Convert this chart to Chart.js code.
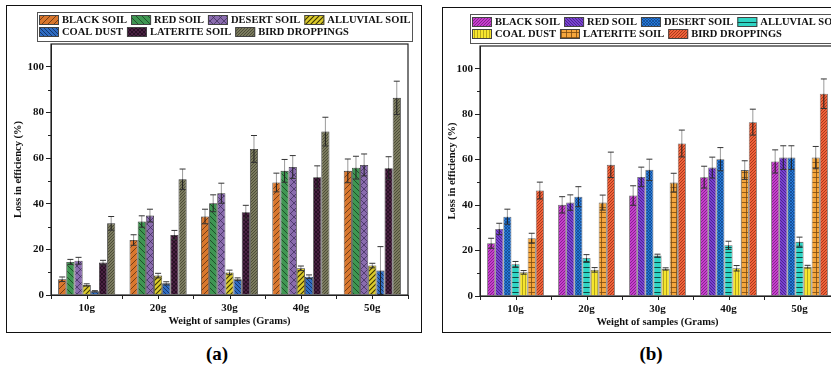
<!DOCTYPE html>
<html>
<head>
<meta charset="utf-8">
<script src="https://cdn.jsdelivr.net/npm/chart.js@4/dist/chart.umd.min.js"></script>
<style>
body{margin:0;width:831px;height:372px;overflow:hidden;background:#fff;position:relative}
.frame{position:absolute;border:1.5px solid #111;box-sizing:border-box}
canvas{position:absolute;top:0}
.tag{position:absolute;top:343px;font:bold 19px "Liberation Serif",serif;transform:translateX(-50%)}
</style>
</head>
<body>
<div class="frame" style="left:6px;top:5px;width:416px;height:328px"></div>
<div class="frame" style="left:442px;top:7px;width:420px;height:326px"></div>
<canvas id="chartA" width="425" height="340" style="left:0"></canvas>
<canvas id="chartB" width="420" height="340" style="left:434px"></canvas>
<div class="tag" style="left:217px">(a)</div>
<div class="tag" style="left:651px">(b)</div>
<script>
const categories = ["10g", "20g", "30g", "40g", "50g"];
const seriesNames = ["BLACK SOIL", "RED SOIL", "DESERT SOIL", "ALLUVIAL SOIL", "COAL DUST", "LATERITE SOIL", "BIRD DROPPINGS"];

// panel (a): one row per series, one value per weight
const valuesA = [
  [6.9, 24.1, 34.4, 49.3, 54.4],
  [14.5, 32.2, 40.2, 54.4, 55.8],
  [15.0, 34.8, 44.6, 56.1, 57.0],
  [4.4, 8.5, 9.9, 11.7, 12.9],
  [1.6, 5.1, 6.9, 8.0, 10.7],
  [14.2, 26.3, 36.3, 51.6, 55.6],
  [31.4, 50.7, 64.0, 71.6, 86.4]
];
const errorsA = [
  [1.0, 2.3, 3.2, 4.1, 5.2],
  [1.1, 2.5, 3.7, 5.0, 5.0],
  [1.5, 2.8, 4.4, 5.0, 4.8],
  [0.5, 1.0, 1.0, 1.0, 1.0],
  [0.3, 0.7, 0.6, 0.8, 10.5],
  [1.0, 2.0, 3.0, 5.0, 5.0],
  [3.0, 4.5, 5.9, 6.3, 7.3]
];

// panel (b)
const valuesB = [
  [23.2, 40.1, 44.2, 52.3, 59.2],
  [29.5, 41.1, 52.4, 56.5, 60.9],
  [34.9, 43.7, 55.5, 60.2, 60.9],
  [14.0, 16.7, 17.8, 22.3, 23.9],
  [10.4, 11.5, 11.9, 12.2, 12.9],
  [25.4, 41.1, 49.9, 55.4, 60.9],
  [46.4, 57.7, 67.1, 76.5, 89.0]
];
const errorsB = [
  [2.2, 3.6, 4.3, 4.8, 5.1],
  [2.5, 3.4, 4.3, 4.6, 5.2],
  [3.3, 4.4, 4.7, 5.1, 5.2],
  [1.2, 1.5, 0.6, 1.8, 2.0],
  [0.8, 1.0, 0.5, 1.2, 0.6],
  [2.2, 3.3, 4.1, 4.1, 4.9],
  [3.7, 5.6, 5.9, 5.7, 6.5]
];

const yTicks = [0, 20, 40, 60, 80, 100];

function hatch(bg, kind, line, gap, lw) {
  const c = document.createElement('canvas');
  c.width = c.height = gap;
  const x = c.getContext('2d');
  x.fillStyle = bg;
  x.fillRect(0, 0, gap, gap);
  x.strokeStyle = line;
  x.lineWidth = lw;
  x.beginPath();
  if (kind.includes('/')) {
    x.moveTo(-1, gap + 1); x.lineTo(gap + 1, -1);
    x.moveTo(-1, 1); x.lineTo(1, -1);
    x.moveTo(gap - 1, gap + 1); x.lineTo(gap + 1, gap - 1);
  }
  if (kind.includes('\\')) {
    x.moveTo(-1, -1); x.lineTo(gap + 1, gap + 1);
    x.moveTo(gap - 1, -1); x.lineTo(gap + 1, 1);
    x.moveTo(-1, gap - 1); x.lineTo(1, gap + 1);
  }
  if (kind.includes('-')) { x.moveTo(0, gap / 2); x.lineTo(gap, gap / 2); }
  if (kind.includes('|')) { x.moveTo(gap / 2, 0); x.lineTo(gap / 2, gap); }
  x.stroke();
  return x.createPattern(c, 'repeat');
}

const fillsA = [
  hatch('#d9772e', '/', '#5a3010', 6, 0.8),
  hatch('#3f9652', '\\', '#173d20', 6, 0.8),
  hatch('#8a6cae', '/\\', '#3a2a55', 7, 0.7),
  hatch('#dccb2c', '/', '#3a3400', 5, 1.1),
  hatch('#2f6cc2', '\\', '#0f2a55', 4, 0.8),
  hatch('#4a2142', '/\\', '#1b0a18', 4, 0.7),
  hatch('#7b7b5f', '/', '#3a3a28', 3, 0.7)
];
const fillsB = [
  hatch('#c63fcd', '/', '#6a1870', 3, 0.7),
  hatch('#7a42d2', '\\', '#3a1a70', 3, 0.7),
  hatch('#2679d8', '/\\', '#0e3a78', 3, 0.6),
  hatch('#2fd5c4', '-', '#0c4a45', 5, 1.0),
  hatch('#f6e52e', '|', '#8a7a10', 3, 0.6),
  hatch('#f5a63c', '-|', '#7a4a10', 5, 0.8),
  hatch('#f0623a', '/', '#8a2a10', 3, 0.7)
];

const serif = '"Liberation Serif", "Times New Roman", serif';

const errbars = {
  id: 'errbars',
  afterDatasetsDraw(chart, args, opts) {
    const ctx = chart.ctx, y = chart.scales.y;
    ctx.save();
    chart.data.datasets.forEach((ds, di) => {
      chart.getDatasetMeta(di).data.forEach((bar, i) => {
        const v = ds.data[i], e = opts.errors[di][i];
        const px = bar.x, top = y.getPixelForValue(v + e), mid = y.getPixelForValue(v), bot = y.getPixelForValue(v - e);
        ctx.lineWidth = 1;
        ctx.strokeStyle = '#9a9a9a';
        ctx.beginPath(); ctx.moveTo(px, top); ctx.lineTo(px, mid); ctx.stroke();
        ctx.strokeStyle = '#222';
        ctx.beginPath(); ctx.moveTo(px, mid); ctx.lineTo(px, bot); ctx.stroke();
        ctx.strokeStyle = '#333';
        ctx.beginPath();
        ctx.moveTo(px - 3, top); ctx.lineTo(px + 3, top);
        ctx.moveTo(px - 3, bot); ctx.lineTo(px + 3, bot);
        ctx.stroke();
      });
    });
    ctx.restore();
  }
};

const frame = {
  id: 'frame',
  afterDraw(chart, args, opts) {
    const ctx = chart.ctx, a = chart.chartArea, x = chart.scales.x, y = chart.scales.y;
    ctx.save();
    ctx.strokeStyle = '#222';
    ctx.lineWidth = 1.2;
    ctx.strokeRect(a.left, a.top, a.right - a.left, a.bottom - a.top);
    ctx.lineWidth = 1;
    ctx.beginPath();
    categories.forEach((c, i) => {
      const px = Math.round(x.getPixelForValue(i)) + 0.5;
      ctx.moveTo(px, a.bottom); ctx.lineTo(px, a.bottom + 4);
    });
    for (let v = 10; v < 110; v += 20) {
      const py = Math.round(y.getPixelForValue(v)) + 0.5;
      ctx.moveTo(a.left, py); ctx.lineTo(a.left - 3, py);
    }
    ctx.stroke();

    // legend box
    const b = opts.box;
    ctx.strokeStyle = '#555';
    ctx.lineWidth = 1;
    ctx.strokeRect(b.x + 0.5, b.y + 0.5, b.w, b.h);
    ctx.font = 'bold 10.5px ' + serif;
    ctx.textBaseline = 'middle';
    ctx.fillStyle = '#111';
    opts.rows.forEach((row, r) => {
      let px = b.x + 2;
      const py = b.y + opts.rowY[r];
      row.forEach(i => {
        ctx.fillStyle = chart.data.datasets[i].backgroundColor;
        ctx.fillRect(px, py - 4.5, 20, 9);
        ctx.strokeStyle = '#444';
        ctx.strokeRect(px + 0.5, py - 4.5, 19, 9);
        px += 23;
        ctx.fillStyle = '#111';
        ctx.fillText(seriesNames[i], px, py + 0.5);
        px += ctx.measureText(seriesNames[i]).width + 4;
      });
    });
    ctx.restore();
  }
};

function build(id, values, errors, fills, edge, pad, yWidth, box) {
  new Chart(document.getElementById(id), {
    type: 'bar',
    data: {
      labels: categories,
      datasets: seriesNames.map((name, i) => ({
        label: name,
        data: values[i],
        backgroundColor: fills[i],
        borderColor: edge,
        borderWidth: 0.8,
        categoryPercentage: 0.8,
        barPercentage: 1.0
      }))
    },
    options: {
      responsive: false,
      animation: false,
      layout: { padding: pad },
      plugins: {
        legend: { display: false },
        tooltip: { enabled: false },
        errbars: { errors: errors },
        frame: { box: box, rows: [[0, 1, 2, 3], [4, 5, 6]], rowY: [8, 20] }
      },
      scales: {
        x: {
          offset: true,
          grid: { offset: true, drawOnChartArea: false, tickLength: 4, color: '#222' },
          border: { color: '#222' },
          ticks: { color: '#111', padding: 3, font: { family: serif, size: 11, weight: 'bold' } },
          title: { display: true, text: 'Weight of samples (Grams)', color: '#111', padding: 0, font: { family: serif, size: 10.5, weight: 'bold' } },
          afterFit(s) { s.height = 33; }
        },
        y: {
          min: 0,
          max: 110,
          afterBuildTicks(s) { s.ticks = yTicks.map(v => ({ value: v })); },
          grid: { drawOnChartArea: false, tickLength: 5, color: '#222' },
          border: { color: '#222' },
          ticks: { color: '#111', padding: 2, font: { family: serif, size: 11, weight: 'bold' } },
          title: { display: true, text: 'Loss in efficiency (%)', color: '#111', padding: 0, font: { family: serif, size: 10.5, weight: 'bold' } },
          afterFit(s) { s.width = yWidth; }
        }
      }
    },
    plugins: [errbars, frame]
  });
}

build('chartA', valuesA, errorsA, fillsA, '#333', { top: 44, left: 12, right: 17, bottom: 12 }, 39, { x: 37, y: 12, w: 375, h: 29 });
build('chartB', valuesB, errorsB, fillsB, '#666', { top: 46, left: 12, right: 19, bottom: 11 }, 34, { x: 36, y: 14, w: 400, h: 29 });
</script>
</body>
</html>
